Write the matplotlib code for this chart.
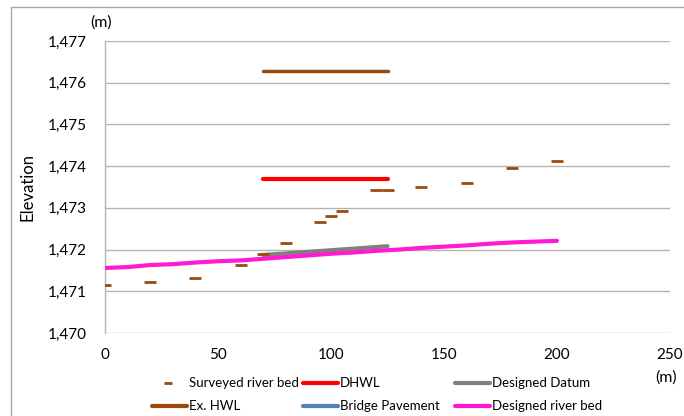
import matplotlib
matplotlib.use("Agg")
import matplotlib.pyplot as plt
from matplotlib.lines import Line2D
from matplotlib.patches import Rectangle
from matplotlib.ticker import FuncFormatter

plt.rcParams['font.family'] = ['Lato', 'DejaVu Sans']

# Surveyed river bed (station m, elevation m)
survey_x = [0, 20, 40, 60, 70, 80, 95, 100, 105, 120, 125, 140, 160, 180, 200]
survey_y = [1471.14, 1471.23, 1471.33, 1471.64, 1471.90, 1472.15, 1472.65,
            1472.80, 1472.93, 1473.44, 1473.44, 1473.49, 1473.59, 1473.95, 1474.13]

# Existing high water level and design high water level
hwl_x = [70, 125]
hwl_y = [1476.27, 1476.27]
dhwl_x = [70, 125]
dhwl_y = [1473.69, 1473.69]

# Designed datum
datum_x = [70, 125]
datum_y = [1471.87, 1472.08]

# Bridge pavement (no values plotted)
pave_x = []
pave_y = []

# Designed river bed
bed_x = [0, 10, 20, 30, 40, 50, 60, 70, 80, 90, 100, 110, 120, 130, 140,
         150, 160, 170, 180, 190, 200]
bed_y = [1471.56, 1471.58, 1471.63, 1471.65, 1471.69, 1471.72, 1471.74,
         1471.78, 1471.82, 1471.86, 1471.90, 1471.93, 1471.97, 1472.00,
         1472.04, 1472.07, 1472.10, 1472.14, 1472.17, 1472.19, 1472.21]

x_ticks = [0, 50, 100, 150, 200, 250]
y_ticks = [1470, 1471, 1472, 1473, 1474, 1475, 1476, 1477]

C_BROWN = '#9C4A0C'
C_RED = '#FF0000'
C_GRAY = '#808080'
C_BLUE = '#4F81BD'
C_MAG = '#FF19D4'
C_GRID = '#B4B4B4'

W, H = 684, 416
fig = plt.figure(figsize=(W / 100, H / 100), dpi=100)

# outer chart frame
fig.patches.append(Rectangle((11 / W, -0.05), 1.2, 1 - 7 / H + 0.05,
                             transform=fig.transFigure, fill=False,
                             edgecolor='#A6A6A6', lw=1))

ax = fig.add_axes([105 / W, 1 - 333 / H, (670 - 105) / W, (333 - 41) / H])
ax.set_xlim(0, 250)
ax.set_ylim(1470, 1477)
ax.set_xticks(x_ticks)
ax.set_yticks(y_ticks)
ax.yaxis.set_major_formatter(FuncFormatter(lambda v, p: f"{v:,.0f}"))
ax.tick_params(length=0, labelsize=11, colors='#000000')
ax.tick_params(axis='y', pad=13)
ax.tick_params(axis='x', pad=11)
ax.grid(axis='y', color=C_GRID, lw=1)
ax.set_axisbelow(True)
for s in ['top', 'right', 'bottom']:
    ax.spines[s].set_visible(False)
ax.spines['left'].set_color(C_GRID)
ax.spines['left'].set_linewidth(1)

ax.plot(bed_x, bed_y, color=C_MAG, lw=3.0, solid_capstyle='round', zorder=3)
ax.plot(datum_x, datum_y, color=C_GRAY, lw=3.0, solid_capstyle='round', zorder=2)
ax.plot(pave_x, pave_y, color=C_BLUE, lw=3.0)
ax.plot(hwl_x, hwl_y, color=C_BROWN, lw=2.5, solid_capstyle='round', zorder=3)
ax.plot(dhwl_x, dhwl_y, color=C_RED, lw=3.0, solid_capstyle='round', zorder=3)
ax.plot(survey_x, survey_y, ls='none', marker='_', ms=9, mew=2.0,
        color=C_BROWN, zorder=4)

ax.set_ylabel('Elevation', fontsize=12)
ax.yaxis.set_label_coords(-(105 - 36) / (670 - 105), 0.5)

fig.text(101 / W, 1 - 23 / H, '(m)', fontsize=11.5, ha='center', va='center')
fig.text(666 / W, 1 - 378 / H, '(m)', fontsize=11.5, ha='center', va='center')

# legend drawn as three equally spaced columns
entries = [
    (152, 383, 'Surveyed river bed', C_BROWN, 'marker'),
    (303, 383, 'DHWL', C_RED, 'line'),
    (455, 383, 'Designed Datum', C_GRAY, 'line'),
    (152, 406, 'Ex. HWL', C_BROWN, 'line'),
    (303, 406, 'Bridge Pavement', C_BLUE, 'line'),
    (455, 406, 'Designed river bed', C_MAG, 'line'),
]
for x0, y0, label, col, kind in entries:
    yy = 1 - y0 / H
    if kind == 'marker':
        fig.add_artist(Line2D([168 / W], [yy], marker='_', ms=6, mew=2.0,
                              color=col, ls='none', transform=fig.transFigure))
    else:
        fig.add_artist(Line2D([x0 / W, (x0 + 35) / W], [yy, yy], color=col,
                              lw=3.0, solid_capstyle='round',
                              transform=fig.transFigure))
    fig.text((x0 + 37) / W, yy, label, fontsize=9.5, ha='left', va='center')

fig.savefig('out.png', dpi=100)
